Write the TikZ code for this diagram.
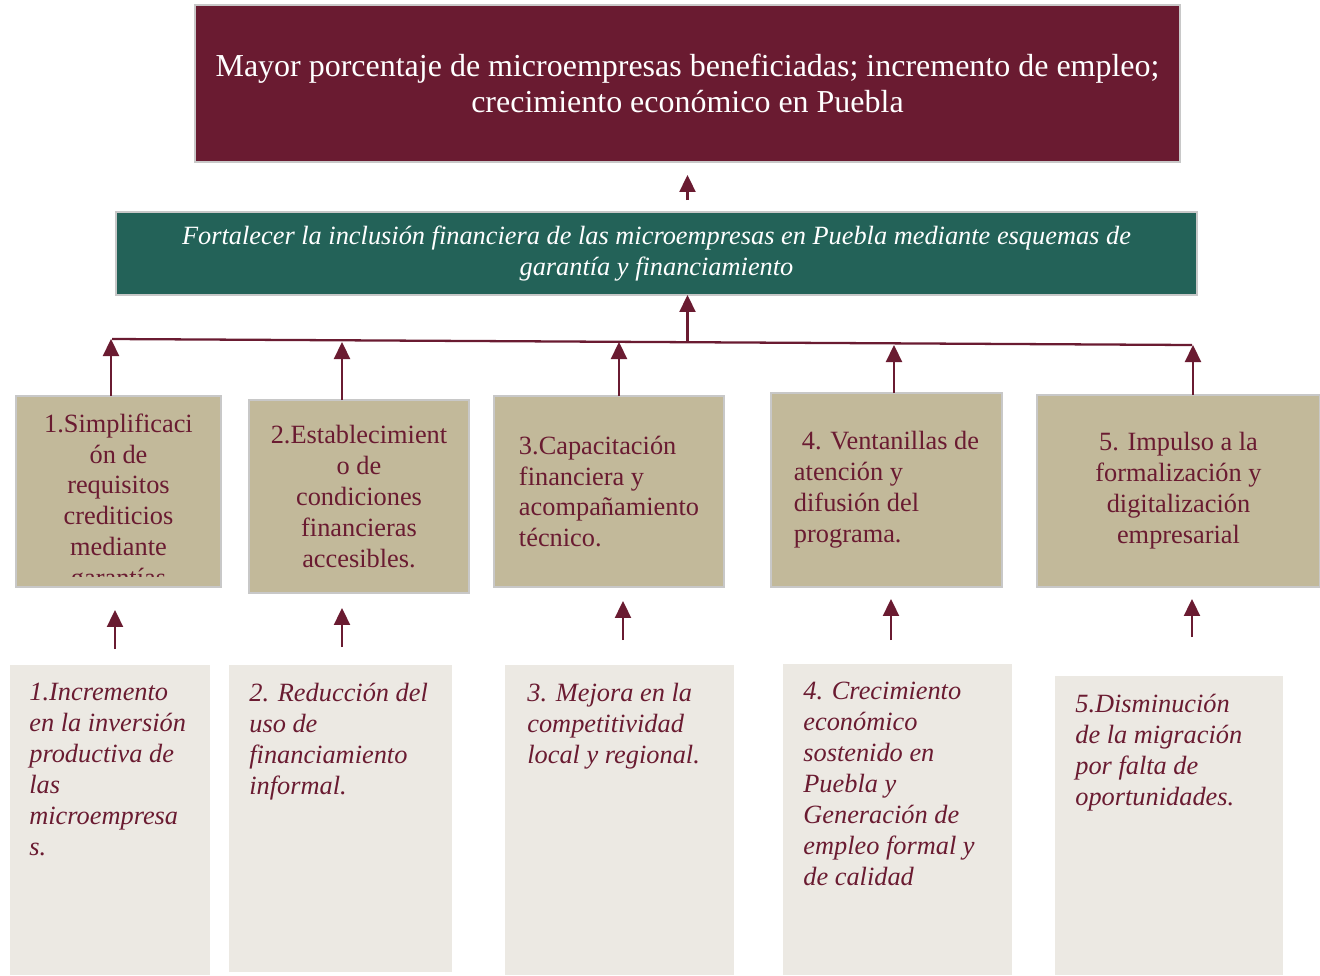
\documentclass[tikz,border=0pt]{standalone}
\usepackage{fontspec}
\setmainfont{Liberation Serif}
\usetikzlibrary{arrows.meta,calc}

\definecolor{vino}{HTML}{6A1B31}
\definecolor{verde}{HTML}{236258}
\definecolor{arena}{HTML}{C2B99A}
\definecolor{hueso}{HTML}{ECE9E3}
\definecolor{borde}{HTML}{C8C8C8}

\begin{document}
\begin{tikzpicture}[x=0.02cm, y=-0.02cm,
    flecha/.style={vino, line width=1.3pt, -{Triangle[length=0.34cm,width=0.32cm]}},
    fin/.style={draw=borde, line width=1pt, fill=vino, text=white, align=center,
        inner sep=0pt, outer sep=0pt, font=\fontsize{18.2}{20.8}\selectfont},
    proposito/.style={draw=borde, line width=1pt, fill=verde, text=white, align=center,
        inner sep=0pt, outer sep=0pt, font=\fontsize{15}{17.6}\selectfont\itshape},
    componente/.style={draw=borde, line width=1pt, fill=arena, text=vino,
        inner sep=0pt, outer sep=0pt, font=\fontsize{15}{17.6}\selectfont},
    efecto/.style={fill=hueso, inner sep=0pt, outer sep=0pt},
    eftexto/.style={text=vino, align=left, anchor=north west, inner sep=0pt,
        font=\fontsize{15}{17.6}\selectfont\itshape}]
    \useasboundingbox (0,0) rectangle (1320,975);

    % Fin y proposito
    \node[fin, minimum width=19.7cm, minimum height=3.14cm] (f) at (687.5,83.5)
        {Mayor porcentaje de microempresas beneficiadas; incremento de empleo;\\
         crecimiento económico en Puebla};
    \node[proposito, minimum width=21.62cm, minimum height=1.66cm] (g) at (656.5,253.5)
        {Fortalecer la inclusión financiera de las microempresas en Puebla mediante esquemas de\\
         garantía y financiamiento};

    % Componentes
    \node[componente, minimum width=4.1cm, minimum height=3.82cm] (t1) at (118.5,491.5) {};
    \begin{scope}
        \clip (16,396) rectangle (221,576);
        \node[text=vino, align=center, inner sep=0pt, font=\fontsize{15}{17.6}\selectfont]
            (t1txt) at (118.5,503) {1.Simplificaci\\ón de\\requisitos\\crediticios\\mediante\\garantías};
    \end{scope}
    \node[componente, align=center, minimum width=4.4cm, minimum height=3.86cm] (t2) at (359,496.5)
        {2.Establecimient\\o de\\condiciones\\financieras\\accesibles.};
    \node[componente, align=left, minimum width=4.6cm, minimum height=3.82cm] (t3) at (609,491.5)
        {3.Capacitación\\financiera y\\acompañamiento\\técnico.};
    \node[componente, align=left, minimum width=4.62cm, minimum height=3.88cm] (t4) at (886.5,490)
        {\hspace{0.3em}4. Ventanillas de\\atención y\\difusión del\\programa.};
    \node[componente, align=center, minimum width=5.66cm, minimum height=3.84cm] (t5) at (1178.5,491)
        {5. Impulso a la\\formalización y\\digitalización\\empresarial};

    % Efectos
    \node[efecto, minimum width=4cm, minimum height=6.2cm] (b1) at (110,820) {};
    \node[efecto, minimum width=4.46cm, minimum height=6.14cm] (b2) at (340.5,818.5) {};
    \node[efecto, minimum width=4.58cm, minimum height=6.2cm] (b3) at (619.5,820) {};
    \node[efecto, minimum width=4.58cm, minimum height=6.22cm] (b4) at (897.5,819.5) {};
    \node[efecto, minimum width=4.56cm, minimum height=5.98cm] (b5) at (1169,825.5) {};
    \node[eftexto] (b1txt) at (29,683) {1.Incremento\\en la inversión\\productiva de\\las\\microempresa\\s.};
    \node[eftexto] (b2txt) at (249,683) {2. Reducción del\\uso de\\financiamiento\\informal.};
    \node[eftexto] (b3txt) at (527,683) {3. Mejora en la\\competitividad\\local y regional.};
    \node[eftexto] (b4txt) at (803,682) {4. Crecimiento\\económico\\sostenido en\\Puebla y\\Generación de\\empleo formal y\\de calidad};
    \node[eftexto] (b5txt) at (1075,694) {5.Disminución\\de la migración\\por falta de\\oportunidades.};

    % Linea que reune los componentes
    \coordinate (izq) at (112,339);
    \coordinate (med) at (650,342);
    \coordinate (der) at (1192,345);
    \draw[vino, line width=1.3pt] (izq) -- (der);

    % Flechas hacia arriba
    \draw[flecha, shorten <=0.24cm, shorten >=0.26cm] (f.south |- g.north) -- (f.south);
    \draw[flecha] (f.south |- med) -- (f.south |- g.south);
    \draw[flecha] ([xshift=-0.15cm]t1.north) -- ([xshift=-0.15cm]t1.north |- izq);
    \draw[flecha] ([xshift=-0.34cm]t2.north) -- ([xshift=-0.34cm]t2.north |- med);
    \draw[flecha] ([xshift=0.2cm]t3.north) -- ([xshift=0.2cm]t3.north |- med);
    \draw[flecha] ([xshift=0.15cm]t4.north) -- ([xshift=0.15cm]t4.north |- der);
    \draw[flecha] ([xshift=0.29cm]t5.north) -- ([xshift=0.29cm]t5.north |- der);

    % Flechas de efectos a componentes
    \draw[flecha, shorten <=0.32cm, shorten >=0.46cm] ([xshift=0.1cm]b1.north) -- ([xshift=0.1cm]b1.north |- t1.south);
    \draw[flecha, shorten <=0.36cm, shorten >=0.3cm] ([xshift=0.03cm]b2.north) -- ([xshift=0.03cm]b2.north |- t2.south);
    \draw[flecha, shorten <=0.5cm, shorten >=0.28cm] ([xshift=0.07cm]b3.north) -- ([xshift=0.07cm]b3.north |- t3.south);
    \draw[flecha, shorten <=0.48cm, shorten >=0.24cm] ([xshift=-0.13cm]b4.north) -- ([xshift=-0.13cm]b4.north |- t4.south);
    \draw[flecha, shorten <=0.78cm, shorten >=0.24cm] ([xshift=0.46cm]b5.north) -- ([xshift=0.46cm]b5.north |- t5.south);
\end{tikzpicture}
\end{document}
